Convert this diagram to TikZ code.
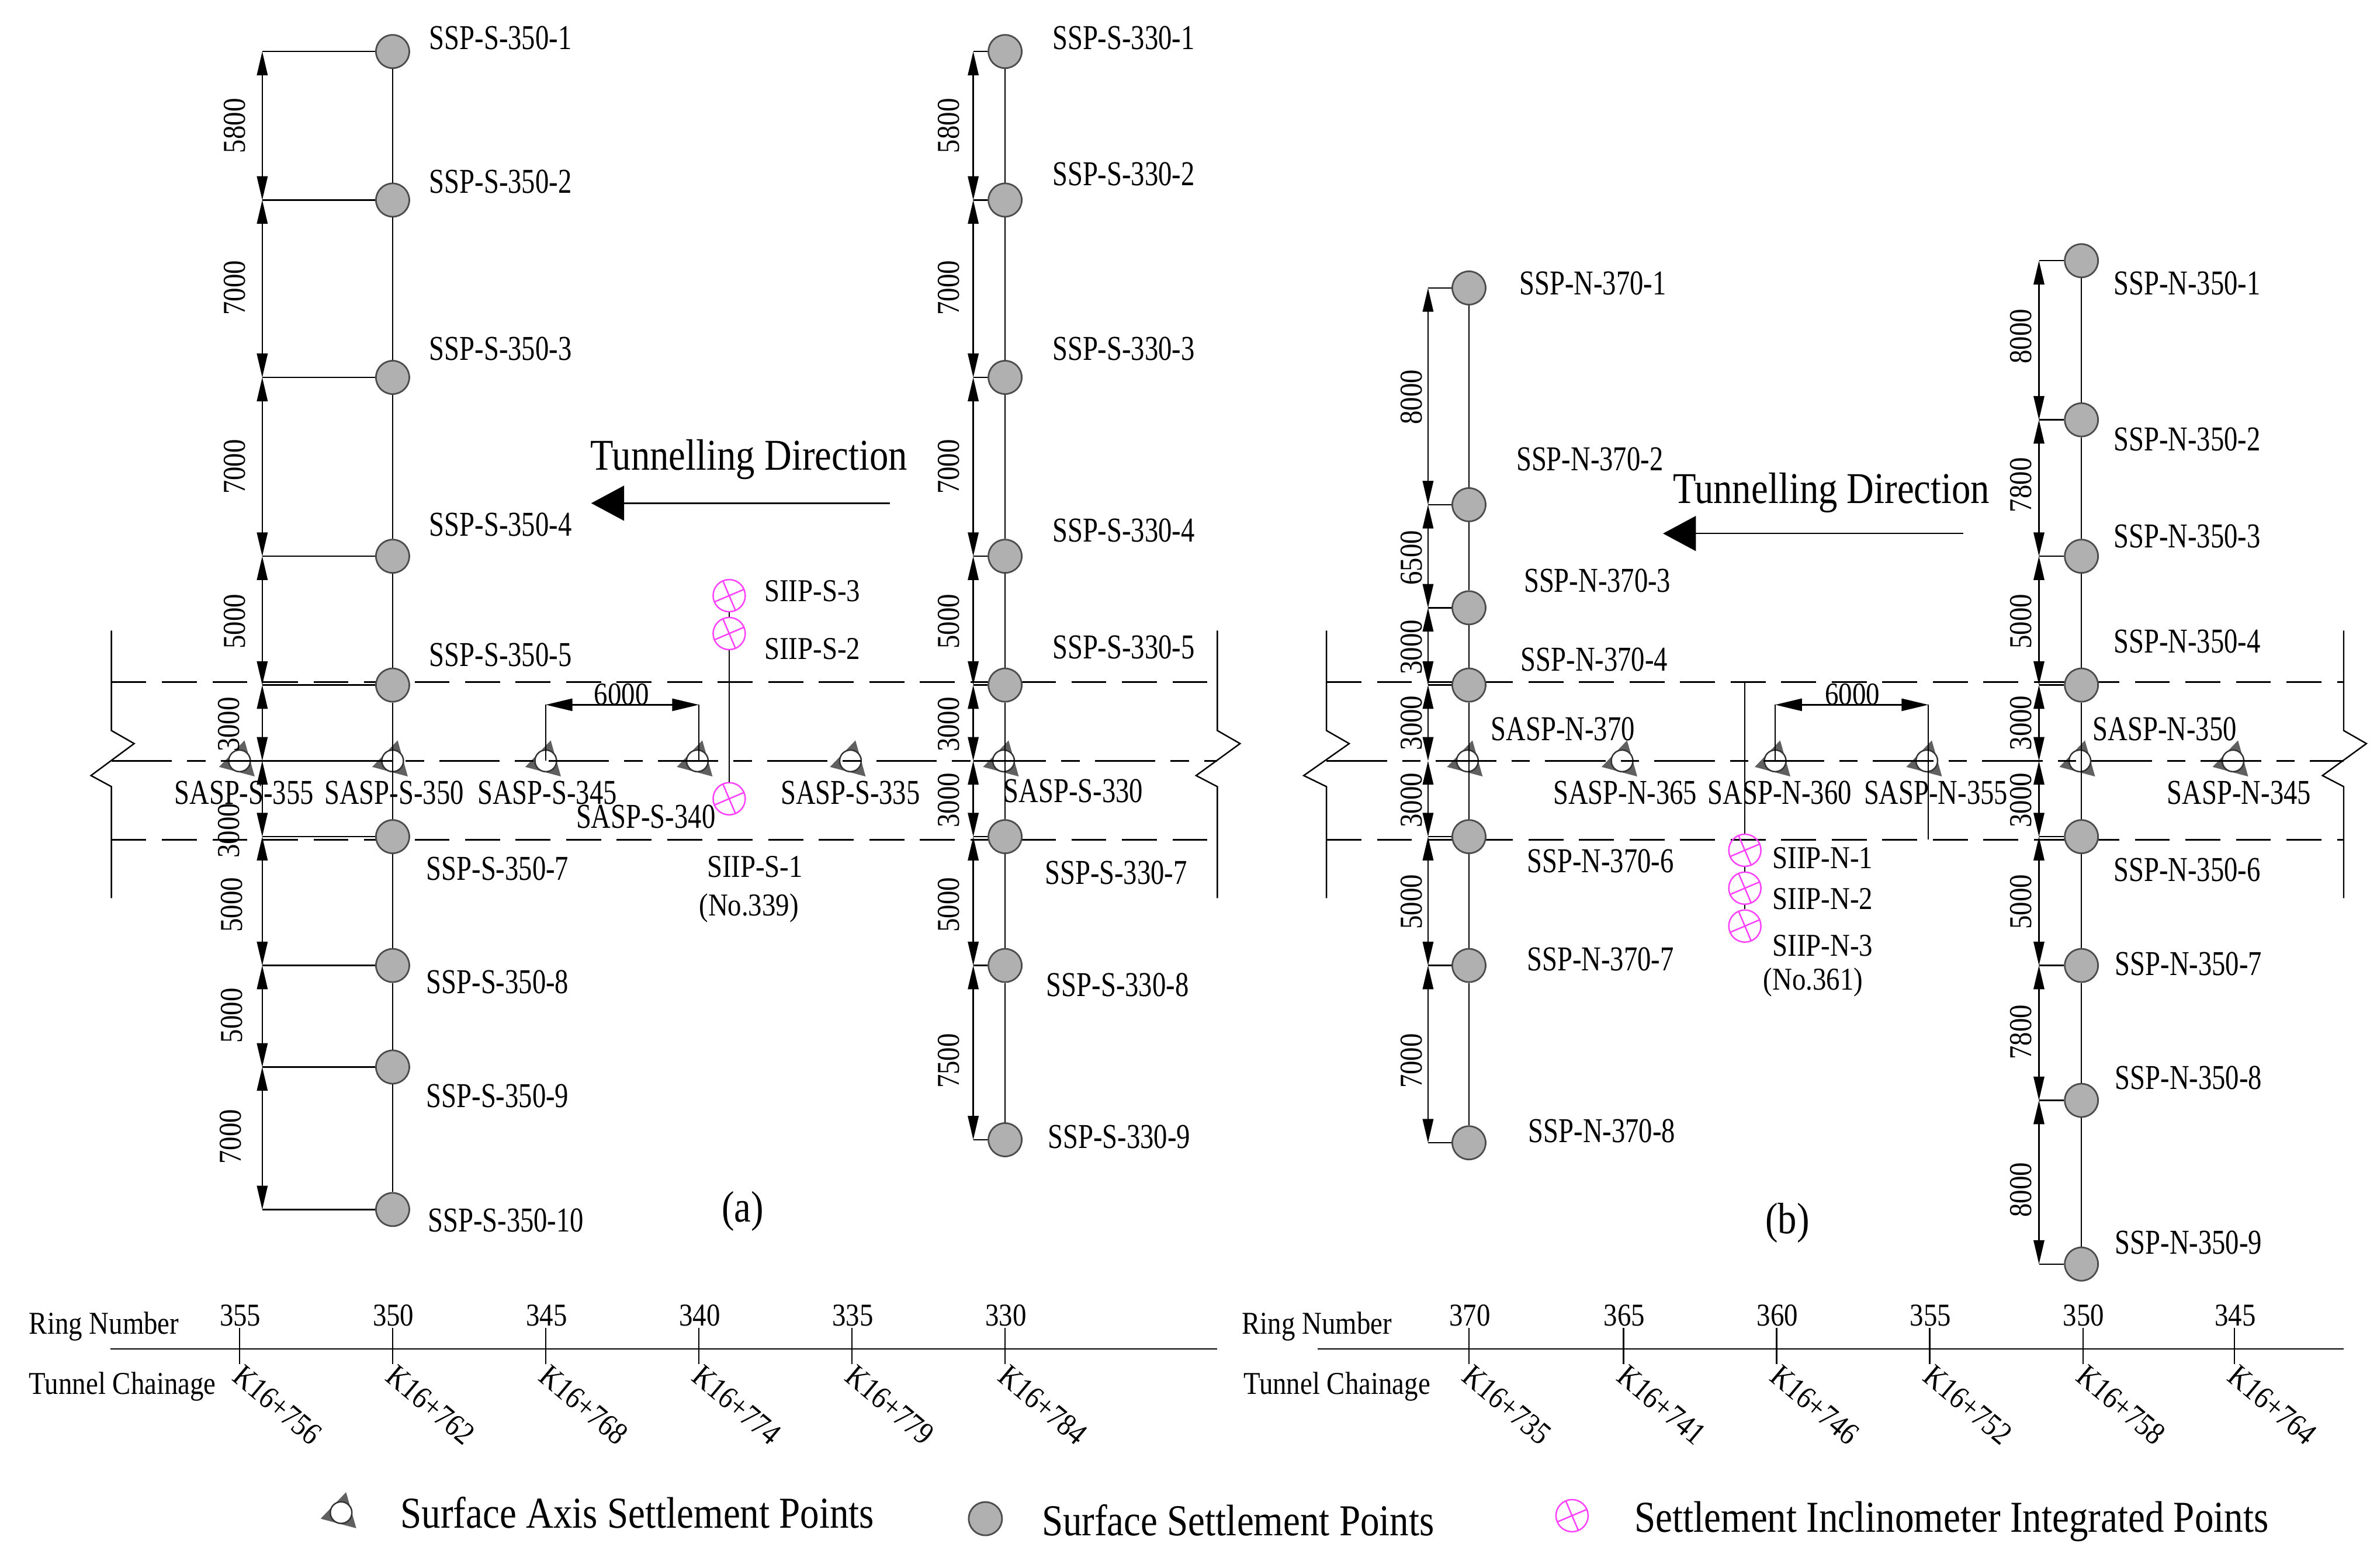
\documentclass[tikz,border=0pt]{standalone}
\usepackage{fontspec}
\setmainfont[FakeStretch=0.86]{Liberation Serif}
\newfontfamily\labf[FakeStretch=0.78]{Liberation Serif}
\usetikzlibrary{arrows.meta}
\definecolor{sspG}{HTML}{B0B0B0}
\definecolor{triG}{HTML}{606060}
\definecolor{iipM}{HTML}{FF40FF}
\newcommand\fs[1]{\fontsize{#1}{#1}\selectfont}
\tikzstyle{ext}=[line width=.7pt,black]
\tikzstyle{dsh}=[ext,dash pattern=on 17pt off 7.6pt]
\tikzstyle{axs}=[ext,dash pattern=on 29.5pt off 7.4pt on 8.9pt off 7.4pt]
\tikzstyle{dimL}=[ext,{Triangle[length=11.6pt,width=5.2pt]}-{Triangle[length=11.6pt,width=5.2pt]}]
\tikzstyle{dimH}=[ext,{Triangle[length=13pt,width=6pt]}-{Triangle[length=13pt,width=6pt]}]
\tikzstyle{dirA}=[ext,-{Triangle[length=16pt,width=17pt]}]
\tikzstyle{ssp}=[circle,draw=black!70,line width=.8pt,fill=sspG,inner sep=0pt,minimum size=.57cm]
\tikzstyle{lab}=[anchor=west,inner sep=0pt,font={\labf\fs{17}}]
\tikzstyle{sasL}=[inner sep=0pt,font={\labf\fs{17}}]
\tikzstyle{sml}=[inner sep=0pt,font=\fs{15.5}]
\tikzstyle{smlW}=[sml,anchor=west]
\tikzstyle{dimT}=[sml,rotate=90]
\tikzstyle{chn}=[sml,rotate=-40]
\tikzstyle{big}=[inner sep=0pt,font=\fs{21.4}]
\tikzstyle{leg}=[anchor=west,inner sep=0pt,font=\fs{21.5}]
\tikzstyle{triO}=[circle,draw=black!80,line width=.7pt,fill=white,inner sep=0pt,minimum size=.37cm]
\tikzstyle{iipO}=[circle,draw=iipM,line width=.7pt,inner sep=0pt,minimum size=.55cm]
\tikzset{
  triP/.pic={\fill[triG] (3.3,-13.5) -- (-13.5,4) -- (10,10.3) -- cycle;
             \node[triO] (-c) at (0,0) {};},
  iipP/.pic={\node[iipO] (-c) at (0,0) {};
             \draw[iipM,line width=.7pt] (67:10.5) -- (247:10.5) (-23:10.5) -- (157:10.5);}
}

\begin{document}
\begin{tikzpicture}[x=.025944cm,y=-.025944cm]
\useasboundingbox (0,0) rectangle (1568,1034.5);
% surface axis points
\foreach \x/\n in {158/355,259/350,360/345,460/340,561/335,662/330}
    {\pic (tA\n) at (\x,502) {triP};}
\foreach \x/\n in {968/370,1070/365,1171/360,1271/355,1372/350,1473/345}
    {\pic (tB\n) at (\x,502) {triP};}
\foreach \x/\y/\n in {161/523/355,260/523/350,361/523/345,426/539/340,561/523/335,708/522/330}
    {\node[sasL] (sA\n) at (\x,\y) {SASP-S-\n};}
\foreach \x/\y/\n in {1031/481/370,1072/523/365,1174/523/360,1277/523/355,1428/481/350,1477/523/345}
    {\node[sasL] (sB\n) at (\x,\y) {SASP-N-\n};}
% tunnel outline
\foreach \p/\xa/\xb/\xc/\xd in {A/73.5/88.5/60/803,B/875/890/860/1546}
    {\coordinate (dl\p) at (\xa,450);
     \coordinate (dr\p) at (\xd,450);
     \coordinate (el\p) at (\xa,554);
     \coordinate (er\p) at (\xd,554);
     \coordinate (al\p) at (\xa,502);
     \coordinate (ar\p) at (\xd,502);
     \draw[dsh] (dl\p) -- (dr\p);
     \draw[dsh] (el\p) -- (er\p);
     \draw[axs] (al\p) -- (ar\p);
     \draw[ext] (\xa,416) -- (\xa,482) -- (\xb,490.6) -- (\xc,511.7) -- (\xa,519) -- (\xa,592.6);
     \draw[ext] (\xd,416) -- (\xd,482) -- (\xd+15,490.6) -- (\xd-14,511.7) -- (\xd,519) -- (\xd,592.6);}
% column S-350
\foreach \i/\y/\lx/\ly in {1/34/283/25,2/132/283/120,3/249/283/230,4/367/283/346,5/452/283/432,7/552/281/573,8/637/281/648,9/704/281/723,10/798/282/805}
    {\node[ssp] (pa\i) at (259,\y) {};
     \node[lab] (la\i) at (\lx,\ly) {SSP-S-350-\i};
     \coordinate (da\i) at (173,\y);
     \draw[ext] (da\i) -- (pa\i);}
\coordinate (pam) at (259,502);
\coordinate (dam) at (173,502);
\draw[ext] (dam) -- (pam);
\foreach \a/\b/\t/\tx/\ty in {1/2/5800/155/83,2/3/7000/155/190,3/4/7000/155/308,4/5/5000/155/410,5/m/3000/151/478,m/7/3000/151/548,7/8/5000/153/597,8/9/5000/153/670,9/10/7000/152/750}
    {\draw[ext] (pa\a) -- (pa\b);
     \draw[dimL] (da\a) -- (da\b);
     \node[dimT] (ta\a) at (\tx,\ty) {\t};}
% column S-330
\foreach \i/\y/\lx/\ly in {1/34/694/25,2/132/694/115,3/249/694/230,4/367/694/350,5/452/694/427,7/552/689/576,8/637/690/650,9/752/691/750}
    {\node[ssp] (pb\i) at (663,\y) {};
     \node[lab] (lb\i) at (\lx,\ly) {SSP-S-330-\i};
     \coordinate (db\i) at (642,\y);
     \draw[ext] (db\i) -- (pb\i);}
\coordinate (pbm) at (663,502);
\coordinate (dbm) at (642,502);
\draw[ext] (dbm) -- (pbm);
\foreach \a/\b/\t/\tx/\ty in {1/2/5800/626/83,2/3/7000/626/190,3/4/7000/626/308,4/5/5000/626/410,5/m/3000/626/478,m/7/3000/626/528,7/8/5000/626/597,8/9/7500/626/700}
    {\draw[ext] (pb\a) -- (pb\b);
     \draw[dimL] (db\a) -- (db\b);
     \node[dimT] (tb\a) at (\tx,\ty) {\t};}
% column N-370
\foreach \i/\y/\lx/\ly in {1/190/1002/187,2/333/1000/303,3/401/1005/383,4/452/1003/435,6/552/1007/568,7/637/1007/633,8/754/1008/746}
    {\node[ssp] (pc\i) at (969,\y) {};
     \node[lab] (lc\i) at (\lx,\ly) {SSP-N-370-\i};
     \coordinate (dc\i) at (942,\y);
     \draw[ext] (dc\i) -- (pc\i);}
\coordinate (pcm) at (969,502);
\coordinate (dcm) at (942,502);
\foreach \a/\b/\t/\tx/\ty in {1/2/8000/931/262,2/3/6500/931/368,3/4/3000/931/427,4/m/3000/931/477,m/6/3000/931/528,6/7/5000/931/595,7/8/7000/931/700}
    {\draw[ext] (pc\a) -- (pc\b);
     \draw[dimL] (dc\a) -- (dc\b);
     \node[dimT] (tc\a) at (\tx,\ty) {\t};}
% column N-350
\foreach \i/\y/\lx/\ly in {1/172/1394/187,2/277/1394/290,3/367/1394/354,4/452/1394/423,6/552/1394/574,7/637/1395/636,8/726/1395/711,9/834/1395/820}
    {\node[ssp] (pd\i) at (1373,\y) {};
     \node[lab] (ld\i) at (\lx,\ly) {SSP-N-350-\i};
     \coordinate (dd\i) at (1345,\y);
     \draw[ext] (dd\i) -- (pd\i);}
\coordinate (pdm) at (1373,502);
\coordinate (ddm) at (1345,502);
\foreach \a/\b/\t/\tx/\ty in {1/2/8000/1333/222,2/3/7800/1333/320,3/4/5000/1333/410,4/m/3000/1333/477,m/6/3000/1333/528,6/7/5000/1333/595,7/8/7800/1333/681,8/9/8000/1333/785}
    {\draw[ext] (pd\a) -- (pd\b);
     \draw[dimL] (dd\a) -- (dd\b);
     \node[dimT] (td\a) at (\tx,\ty) {\t};}
% spacing between axis points
\coordinate (hA1) at (360,465);
\coordinate (hA2) at (461,465);
\coordinate (hA3) at (360,502);
\coordinate (hA4) at (461,502);
\draw[ext] (hA1) -- (hA3) (hA2) -- (hA4);
\draw[dimH] (hA1) -- (hA2);
\node[sml] (hAt) at (410,458) {6000};
\coordinate (hB1) at (1171,465);
\coordinate (hB2) at (1272,465);
\coordinate (hB3) at (1171,502);
\coordinate (hB4) at (1272,554);
\draw[ext] (hB1) -- (hB3) (hB2) -- (hB4);
\draw[dimH] (hB1) -- (hB2);
\node[sml] (hBt) at (1222,458) {6000};
% integrated points
\foreach \n/\y in {3/393,2/418,1/527}
    {\pic (iS\n) at (481,\y) {iipP};}
\draw[ext] (iS3-c) -- (iS2-c) (iS2-c) -- (iS1-c);
\node[smlW] (iSl3) at (504,390) {SIIP-S-3};
\node[smlW] (iSl2) at (504,428) {SIIP-S-2};
\node[sml] (iSl1) at (498,572) {SIIP-S-1};
\node[sml] (iSno) at (494,599) {(No.339)};
\foreach \n/\y in {1/561,2/586,3/611}
    {\pic (iN\n) at (1151,\y) {iipP};}
\coordinate (iNt) at (1151,450);
\draw[ext] (iNt) -- (iN1-c) (iN1-c) -- (iN2-c) (iN2-c) -- (iN3-c);
\node[smlW] (iNl1) at (1169,566) {SIIP-N-1};
\node[smlW] (iNl2) at (1169,593) {SIIP-N-2};
\node[smlW] (iNl3) at (1169,624) {SIIP-N-3};
\node[sml] (iNno) at (1196,648) {(No.361)};
% direction
\node[big] (dirAt) at (494,303) {Tunnelling Direction};
\coordinate (dirA1) at (587,332);
\coordinate (dirA2) at (390,332);
\draw[dirA] (dirA1) -- (dirA2);
\node[big] (dirBt) at (1208,325) {Tunnelling Direction};
\coordinate (dirB1) at (1295,352);
\coordinate (dirB2) at (1097,352);
\draw[dirA] (dirB1) -- (dirB2);
\node[big] (capA) at (490,799) {(a)};
\node[big] (capB) at (1179,807) {(b)};
% ring scale
\node[smlW] (rnA) at (19,875) {Ring Number};
\node[smlW] (tcA) at (19,915) {Tunnel Chainage};
\node[smlW] (rnB) at (819,875) {Ring Number};
\node[smlW] (tcB) at (820,915) {Tunnel Chainage};
\coordinate (scA1) at (73,890);
\coordinate (scA2) at (803,890);
\draw[ext] (scA1) -- (scA2);
\coordinate (scB1) at (869,890);
\coordinate (scB2) at (1546,890);
\draw[ext] (scB1) -- (scB2);
\foreach \x/\r/\k in {158/355/756,259/350/762,360/345/768,461/340/774,562/335/779,663/330/784}
    {\coordinate (kaA\r) at (\x,876);
     \coordinate (kbA\r) at (\x,900);
     \draw[ext] (kaA\r) -- (kbA\r);
     \node[sml] (rA\r) at (\x+.5,868) {\r};
     \node[chn] (cA\r) at (\x+25,927) {K16+\k};}
\foreach \x/\r/\k in {969/370/735,1071/365/741,1172/360/746,1273/355/752,1374/350/758,1474/345/764}
    {\coordinate (kaB\r) at (\x,876);
     \coordinate (kbB\r) at (\x,900);
     \draw[ext] (kaB\r) -- (kbB\r);
     \node[sml] (rB\r) at (\x+.5,868) {\r};
     \node[chn] (cB\r) at (\x+25,927) {K16+\k};}
% legend
\pic (lgT) at (225,998) {triP};
\node[leg] (lgTl) at (264,998) {Surface Axis Settlement Points};
\node[ssp] (lgS) at (650,1002) {};
\node[leg] (lgSl) at (687,1003) {Surface Settlement Points};
\pic (lgI) at (1037,1000) {iipP};
\node[leg] (lgIl) at (1078,1004) {Settlement Inclinometer Integrated Points};
\end{tikzpicture}
\end{document}
